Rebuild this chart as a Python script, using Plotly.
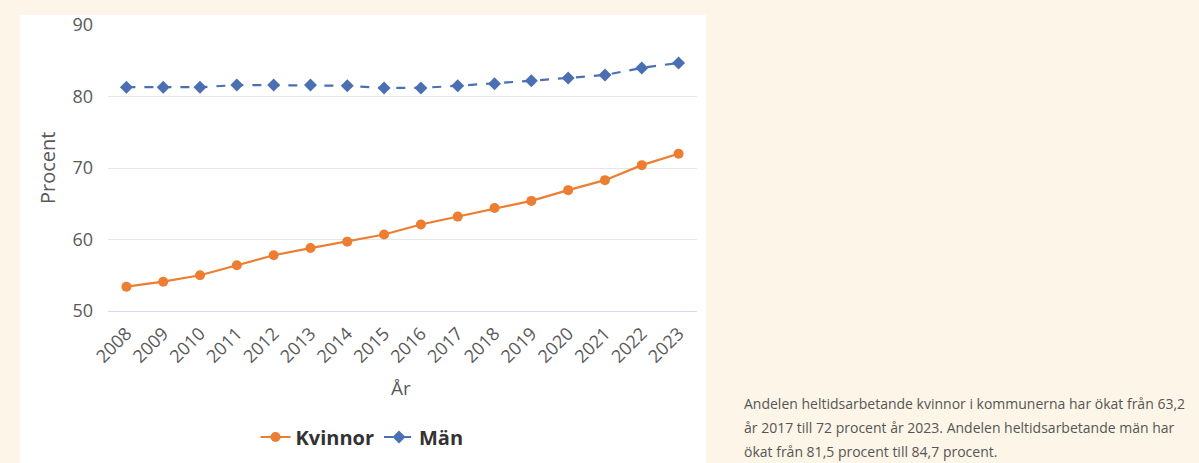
import plotly.graph_objects as go

years = [str(y) for y in range(2008, 2024)]
kvinnor = [53.4, 54.1, 55.0, 56.4, 57.8, 58.8, 59.7, 60.7, 62.1, 63.2, 64.4, 65.4, 66.9, 68.3, 70.4, 72.0]
man = [81.3, 81.3, 81.3, 81.6, 81.6, 81.6, 81.5, 81.2, 81.2, 81.5, 81.8, 82.2, 82.6, 83.0, 84.0, 84.7]
y_ticks = [50, 60, 70, 80, 90]
note_lines = [
    "Andelen heltidsarbetande kvinnor i kommunerna har ökat från 63,2",
    "år 2017 till 72 procent år 2023. Andelen heltidsarbetande män har",
    "ökat från 81,5 procent till 84,7 procent.",
]

W, H = 1199, 463
L, R, T, B = 108, 697, 25, 311

def px(x):
    return (x - L) / (R - L)

def py(y):
    return (B - y) / (B - T)

FONT = "Open Sans"
ORANGE = "#ED7D31"
BLUE = "#4A70B3"

fig = go.Figure()
fig.add_trace(go.Scatter(
    x=years, y=kvinnor, name="Kvinnor", mode="lines+markers",
    line=dict(color=ORANGE, width=2.2),
    marker=dict(symbol="circle", size=10, color=ORANGE),
))
fig.add_trace(go.Scatter(
    x=years, y=man, name="Män", mode="lines+markers",
    line=dict(color=BLUE, width=2.2, dash="dash"),
    marker=dict(symbol="diamond", size=10, color=BLUE),
))

fig.update_layout(
    width=W, height=H,
    margin=dict(l=L, r=W - R, t=T, b=H - B, pad=0, autoexpand=False),
    paper_bgcolor="#FDF6E8",
    plot_bgcolor="white",
    font=dict(family=FONT, color="#595959", size=18),
    showlegend=True,
    legend=dict(
        orientation="h", x=px(362), y=py(437), xanchor="center", yanchor="middle",
        font=dict(size=20, color="#333333", family=FONT, weight="bold"),
        bgcolor="rgba(0,0,0,0)", itemwidth=30, tracegroupgap=0,
    ),
    shapes=[dict(
        type="rect", xref="paper", yref="paper",
        x0=px(20), x1=px(706), y0=py(15), y1=py(470),
        fillcolor="white", line=dict(width=0), layer="below",
    )],
)

fig.update_xaxes(
    type="category", tickangle=-45, showgrid=False, automargin=False,
    showline=True, linecolor="#D3DBEC", linewidth=1,
    ticks="", tickfont=dict(size=18, color="#595959"),
    ticklabelstandoff=4,
    range=[-0.5, len(years) - 0.5],
)
fig.update_yaxes(
    range=[50, 90], tickvals=y_ticks, showgrid=True, gridcolor="#E6E6E6", gridwidth=1,
    zeroline=False, showline=False, ticks="", ticklabelstandoff=14, automargin=False,
    tickfont=dict(size=18, color="#595959"),
)

fig.add_annotation(
    text="Procent", xref="paper", yref="paper", x=px(47), y=py(168),
    textangle=-90, showarrow=False, font=dict(size=20, color="#595959", family=FONT),
    xanchor="center", yanchor="middle",
)
fig.add_annotation(
    text="År", xref="paper", yref="paper", x=px(401), y=py(388),
    showarrow=False, font=dict(size=19, color="#595959", family=FONT),
    xanchor="center", yanchor="middle",
)
for i, line in enumerate(note_lines):
    fig.add_annotation(
        text=line, xref="paper", yref="paper", x=px(742), y=py(403 + 24 * i),
        showarrow=False, align="left", xanchor="left", yanchor="middle",
        font=dict(size=14, color="#555555", family=FONT),
    )

fig.write_html("out.html", config={"displayModeBar": False},
               post_script="document.body.style.margin='0';")
